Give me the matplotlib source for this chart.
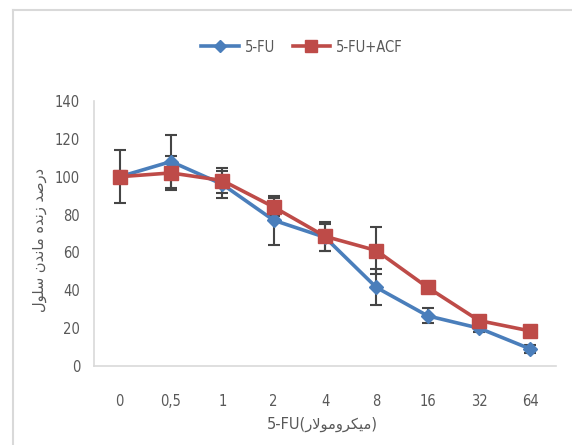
import matplotlib
matplotlib.use("Agg")
import matplotlib.pyplot as plt
from matplotlib.lines import Line2D
from matplotlib import font_manager

doses = ["0", "0,5", "1", "2", "4", "8", "16", "32", "64"]
fu = [100, 108, 96, 77, 68, 41.5, 26.5, 20, 9]
fu_err = [3, 14, 7, 13, 7, 9.5, 4, 2, 2]
fu_acf = [100, 102, 98, 84, 68.5, 61, 41.5, 24, 18.5]
fu_acf_err = [14, 9, 6.5, 5, 7.5, 12.5, 3, 2, 2]

ylabel_fa = "درصد زنده ماندن سلول"
xunit_fa = "میکرومولار"

# tiny arabic shaper (matplotlib has no bidi / joining)
FORMS = {
    "ا": (0xFE8D, 0xFE8E, None, None), "د": (0xFEA9, 0xFEAA, None, None),
    "ر": (0xFEAD, 0xFEAE, None, None), "ز": (0xFEAF, 0xFEB0, None, None),
    "و": (0xFEED, 0xFEEE, None, None),
    "ص": (0xFEB9, 0xFEBA, 0xFEBB, 0xFEBC), "ن": (0xFEE5, 0xFEE6, 0xFEE7, 0xFEE8),
    "ه": (0xFEE9, 0xFEEA, 0xFEEB, 0xFEEC), "م": (0xFEE1, 0xFEE2, 0xFEE3, 0xFEE4),
    "ل": (0xFEDD, 0xFEDE, 0xFEDF, 0xFEE0), "س": (0xFEB1, 0xFEB2, 0xFEB3, 0xFEB4),
    "ی": (0xFBFC, 0xFBFD, 0xFBFE, 0xFBFF), "ک": (0xFB8E, 0xFB8F, 0xFB90, 0xFB91),
}

def shape(word):
    out = []
    i = 0
    while i < len(word):
        c = word[i]
        if c not in FORMS:
            out.append(c)
            i += 1
            continue
        prev = word[i - 1] if i > 0 else ""
        joins_prev = prev in FORMS and FORMS[prev][2] is not None
        if c == "ل" and i + 1 < len(word) and word[i + 1] == "ا":
            out.append(chr(0xFEFC if joins_prev else 0xFEFB))
            i += 2
            continue
        nxt = word[i + 1] if i + 1 < len(word) else ""
        iso, fin, ini, med = FORMS[c]
        joins_next = ini is not None and nxt in FORMS
        if joins_prev and joins_next:
            g = med
        elif joins_prev:
            g = fin
        elif joins_next:
            g = ini
        else:
            g = iso
        out.append(chr(g))
        i += 1
    return "".join(out)[::-1]

def rtl(text):
    return " ".join(shape(w) for w in text.split(" ")[::-1])

# narrow numbers like the original export
num_font = font_manager.FontProperties(family="DejaVu Sans", stretch="condensed", size=10.5)

grey = "#595959"
blue = "#4a7ebb"
red = "#be4b48"

fig = plt.figure(figsize=(5.72, 4.45), dpi=100)
ax = fig.add_axes([94 / 572, 79 / 445, 462 / 572, 265 / 445])

x = list(range(len(doses)))
ax.errorbar(x, fu, yerr=fu_err, fmt="none", ecolor="#454545", elinewidth=1.5,
            capsize=4, capthick=1.5, zorder=2)
ax.errorbar(x, fu_acf, yerr=fu_acf_err, fmt="none", ecolor="#454545", elinewidth=1.5,
            capsize=4, capthick=1.5, zorder=2)
ax.plot(x, fu, color=blue, lw=2.6, marker="D", ms=7, zorder=3, label="5-FU")
ax.plot(x, fu_acf, color=red, lw=2.6, marker="s", ms=9.5, zorder=4, label="5-FU+ACF")

ax.set_xlim(-0.5, len(doses) - 0.5)
ax.set_ylim(0, 140)
ax.set_yticks(range(0, 141, 20))
ax.set_xticks(x)
ax.set_xticklabels(doses)
for s in ["top", "right"]:
    ax.spines[s].set_visible(False)
for s in ["left", "bottom"]:
    ax.spines[s].set_color("#d9d9d9")
    ax.spines[s].set_linewidth(1.2)
ax.tick_params(length=0, colors=grey)
ax.tick_params(axis="y", pad=10)
ax.tick_params(axis="x", pad=20)
for lab in ax.get_xticklabels() + ax.get_yticklabels():
    lab.set_fontproperties(num_font)

fig.text(40 / 572, 1 - 240 / 445, rtl(ylabel_fa), rotation=90, ha="center", va="center",
         color=grey, fontsize=10.5, family="DejaVu Sans")
fig.text(322 / 572, 1 - 424 / 445, "5-FU(" + rtl(xunit_fa) + ")", ha="center",
         va="center", color=grey, fontsize=10.5, family="DejaVu Sans")

handles = [Line2D([], [], color=blue, lw=2.6, marker="D", ms=6),
           Line2D([], [], color=red, lw=2.6, marker="s", ms=9)]
fig.legend(handles, ["5-FU", "5-FU+ACF"], loc="center", bbox_to_anchor=(302 / 572, 1 - 47 / 445),
           ncol=2, frameon=False, handlelength=2.6, columnspacing=1.2, handletextpad=0.4,
           prop=num_font, labelcolor=grey)

# chart-area border like the spreadsheet export
fig.add_artist(Line2D([13 / 572, 13 / 572], [0, 1 - 10 / 445], transform=fig.transFigure,
                      color="#d9d9d9", lw=1.5))
fig.add_artist(Line2D([13 / 572, 1], [1 - 10 / 445, 1 - 10 / 445], transform=fig.transFigure,
                      color="#d9d9d9", lw=1.5))

fig.savefig("out.png", dpi=100)
